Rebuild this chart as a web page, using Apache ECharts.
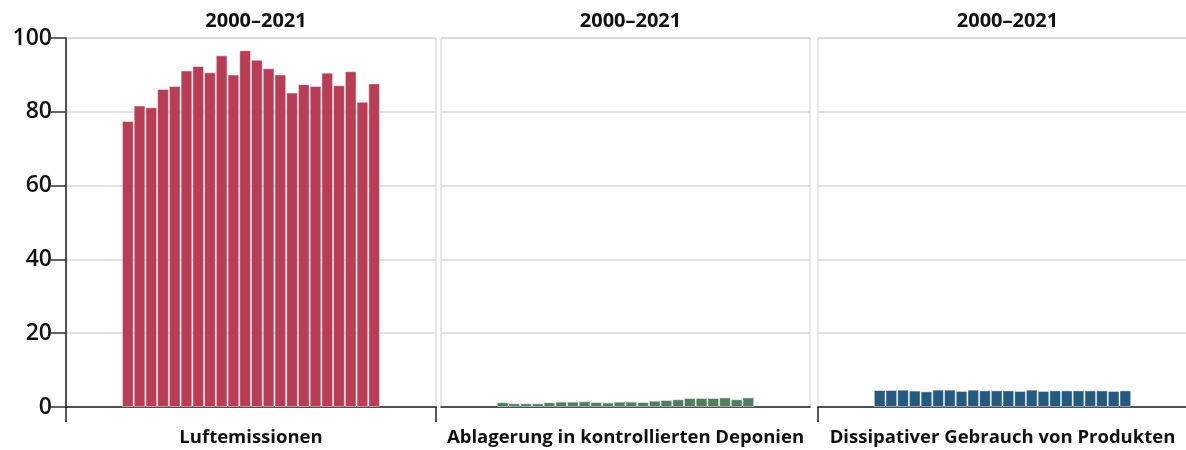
<!DOCTYPE html>
<html>
<head>
<meta charset="utf-8">
<script src="https://cdn.jsdelivr.net/npm/echarts@6/dist/echarts.min.js"></script>
<style>
  html, body { margin: 0; padding: 0; background: #fff; }
  #chart { width: 1186px; height: 450px; }
</style>
</head>
<body>
<div id="chart"></div>
<script>
// data
let years = [2000, 2001, 2002, 2003, 2004, 2005, 2006, 2007, 2008, 2009, 2010,
  2011, 2012, 2013, 2014, 2015, 2016, 2017, 2018, 2019, 2020, 2021]
let periodLabel = '2000–2021'
let panelNames = ['Luftemissionen', 'Ablagerung in kontrollierten Deponien', 'Dissipativer Gebrauch von Produkten']
let luftemissionen = [77.5, 81.7, 81.2, 86.2, 87.0, 91.2, 92.4, 90.7, 95.3, 90.1, 96.7,
  94.1, 91.8, 90.1, 85.2, 87.5, 87.0, 90.6, 87.2, 91.0, 82.7, 87.7]
let ablagerung = [1.3, 1.0, 1.0, 1.0, 1.3, 1.45, 1.45, 1.55, 1.35, 1.2, 1.45,
  1.45, 1.35, 1.7, 1.9, 2.1, 2.45, 2.45, 2.45, 2.6, 2.1, 2.6]
let dissipativ = [4.6, 4.6, 4.7, 4.45, 4.25, 4.7, 4.7, 4.35, 4.7, 4.5, 4.5,
  4.5, 4.35, 4.7, 4.35, 4.5, 4.5, 4.5, 4.5, 4.5, 4.35, 4.5]
let yTicks = [0, 20, 40, 60, 80, 100]

let colors = ['#ba3d56', '#4f7f5f', '#245a80']
let seriesValues = [luftemissionen, ablagerung, dissipativ]

let font = 'Open Sans'
// panel layout: [left, width]
let panels = [[66, 370], [441, 369], [818, 369]]
let xMin = 1994.73
let xMax = 2026.27

let chart = echarts.init(document.getElementById('chart'), null, { renderer: 'canvas' })

let grids = [], xAxes = [], yAxes = [], series = [], titles = []
panels.forEach(([left, width], i) => {
  grids.push({
    left: left, width: width, top: 38, bottom: 43,
    outerBoundsMode: 'none',
    show: true, borderColor: '#d0d0d0', borderWidth: 1
  })
  let tickValues = i === 0 ? [xMin, xMax] : (i === 2 ? [xMin] : [])
  xAxes.push({
    type: 'value', gridIndex: i, min: xMin, max: xMax,
    name: panelNames[i], nameLocation: 'middle', nameGap: 21,
    nameTextStyle: { fontFamily: font, fontWeight: 'bold', fontSize: 18.5, color: '#111' },
    axisLine: { show: true, onZero: false, lineStyle: { color: '#222', width: 1.5 } },
    axisTick: { show: tickValues.length > 0, length: 15, customValues: tickValues, lineStyle: { color: '#222', width: 1.5 } },
    axisLabel: { show: false },
    splitLine: { show: false }
  })
  yAxes.push({
    type: 'value', gridIndex: i, min: 0, max: 100, interval: 20,
    axisLine: { show: i === 0, lineStyle: { color: '#222', width: 1.5 } },
    axisTick: { show: i === 0, length: 15, lineStyle: { color: '#333', width: 1.5 } },
    axisLabel: {
      show: i === 0, margin: 14, fontFamily: font, fontSize: 23, fontWeight: 600, color: '#111',
      customValues: yTicks
    },
    splitLine: { show: true, lineStyle: { color: '#d9d9d9', width: 1.5 } }
  })
  series.push({
    type: 'bar', xAxisIndex: i, yAxisIndex: i,
    barWidth: 11.7,
    itemStyle: { color: colors[i], borderColor: 'rgba(255,255,255,0.45)', borderWidth: 1 },
    data: years.map((y, k) => [y, seriesValues[i][k]])
  })
  titles.push({
    text: periodLabel, left: left + width / 2, top: 6, textAlign: 'center',
    textStyle: { fontFamily: font, fontWeight: 'bold', fontSize: 20, color: '#111' }
  })
})

chart.setOption({
  animation: false,
  title: titles,
  grid: grids,
  xAxis: xAxes,
  yAxis: yAxes,
  series: series
})
</script>
</body>
</html>
